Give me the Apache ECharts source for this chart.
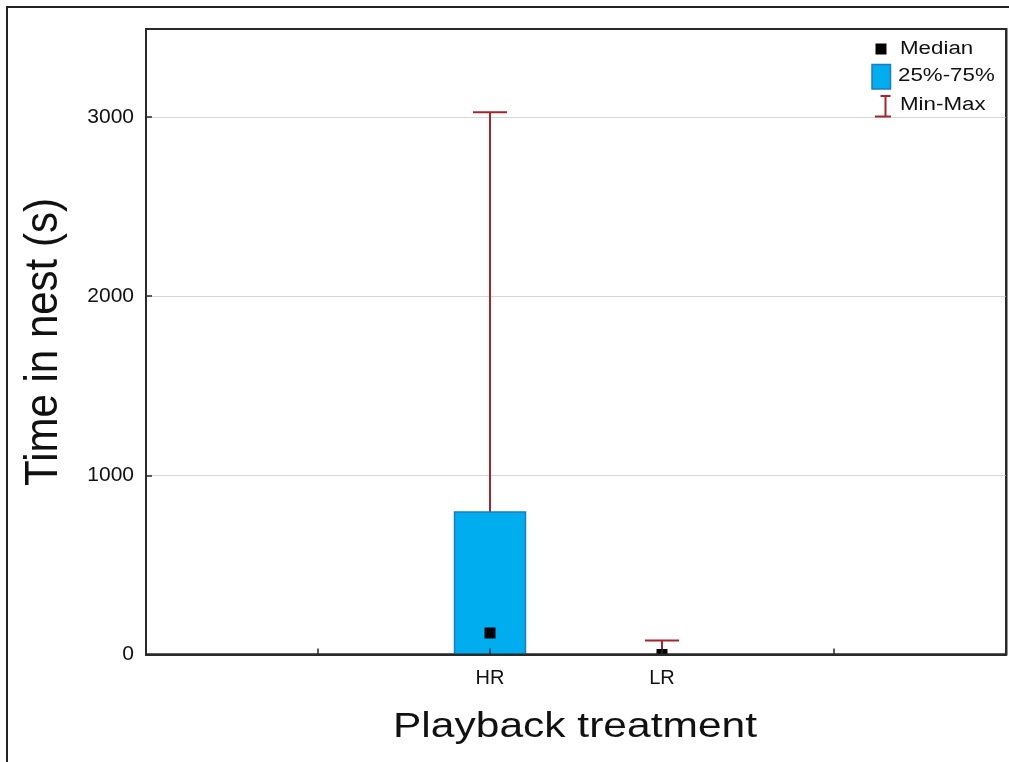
<!DOCTYPE html>
<html>
<head>
<meta charset="utf-8">
<script src="https://cdn.jsdelivr.net/npm/echarts@6/dist/echarts.min.js"></script>
<style>
  html, body { margin: 0; padding: 0; background: #fff; }
  #chart { width: 1009px; height: 762px; }
</style>
</head>
<body>
<div id="chart"></div>
<script>
// Playback treatment groups and their box-plot statistics (time in nest, s)
const categories = ['HR', 'LR'];
const minValues = [0, 0];
const q1Values = [0, 0];
const medianValues = [120, 0];
const q3Values = [795, 0];
const maxValues = [3025, 78];

const yMax = 3490;
const yStep = 1000;

const legendItems = ['Median', '25%-75%', 'Min-Max'];

const boxFill = '#00AEEF';
const boxStroke = '#1B7DBE';
const whiskerColor = '#A3262E';
const textColor = '#111';

const chart = echarts.init(document.getElementById('chart'));

const boxData = categories.map((c, i) => [
  i, minValues[i], q1Values[i], medianValues[i], q3Values[i], maxValues[i]
]);

function renderBox(params, api) {
  const i = api.value(0);
  const xc = api.coord([i, 0])[0];
  const yMin = api.coord([i, api.value(1)])[1];
  const yQ1 = api.coord([i, api.value(2)])[1];
  const yMed = api.coord([i, api.value(3)])[1];
  const yQ3 = api.coord([i, api.value(4)])[1];
  const yTop = api.coord([i, api.value(5)])[1];
  const boxW = api.size([0.4126, 0])[0];
  const capW = api.size([0.198, 0])[0];
  const whiskerStyle = { stroke: whiskerColor, lineWidth: 2 };
  const children = [];

  // upper whisker and cap
  children.push({ type: 'line', shape: { x1: xc, y1: yQ3, x2: xc, y2: yTop }, style: whiskerStyle });
  children.push({ type: 'line', shape: { x1: xc - capW / 2, y1: yTop, x2: xc + capW / 2, y2: yTop }, style: whiskerStyle });

  // lower whisker, only when it has length
  if (api.value(1) < api.value(2)) {
    children.push({ type: 'line', shape: { x1: xc, y1: yQ1, x2: xc, y2: yMin }, style: whiskerStyle });
    children.push({ type: 'line', shape: { x1: xc - capW / 2, y1: yMin, x2: xc + capW / 2, y2: yMin }, style: whiskerStyle });
  }

  // interquartile box
  if (api.value(4) > api.value(2)) {
    children.push({
      type: 'rect',
      shape: { x: xc - boxW / 2, y: yQ3, width: boxW, height: yQ1 - yQ3 },
      style: { fill: boxFill, stroke: boxStroke, lineWidth: 1.5 }
    });
  }

  // median marker
  children.push({
    type: 'rect',
    shape: { x: xc - 5.5, y: yMed - 5.5, width: 11, height: 11 },
    style: { fill: '#000' }
  });

  return { type: 'group', children: children };
}

const legendGraphics = [
  // median square
  { type: 'rect', shape: { x: 875.5, y: 43.5, width: 11, height: 11 }, style: { fill: '#000' }, z: 100 },
  // box swatch
  { type: 'rect', shape: { x: 872, y: 64.5, width: 18.5, height: 24.5 }, style: { fill: boxFill, stroke: boxStroke, lineWidth: 1.5 }, z: 100 },
  // whisker icon
  { type: 'line', shape: { x1: 885.5, y1: 96, x2: 885.5, y2: 116.5 }, style: { stroke: whiskerColor, lineWidth: 2 }, z: 100 },
  { type: 'line', shape: { x1: 880.5, y1: 96, x2: 890.5, y2: 96 }, style: { stroke: whiskerColor, lineWidth: 2 }, z: 100 },
  { type: 'line', shape: { x1: 875, y1: 116.5, x2: 891, y2: 116.5 }, style: { stroke: whiskerColor, lineWidth: 2 }, z: 100 }
];
const legendTextPos = [[900, 49.5], [898, 76.5], [900, 105]];
legendItems.forEach((t, k) => {
  legendGraphics.push({
    type: 'text',
    x: legendTextPos[k][0], y: legendTextPos[k][1],
    scaleX: 1.24,
    style: { text: t, fill: textColor, font: '18px "Liberation Sans", Arial, sans-serif', textAlign: 'left', textVerticalAlign: 'middle' },
    z: 100
  });
});

chart.setOption({
  animation: false,
  backgroundColor: '#fff',
  grid: {
    left: 146, right: 2.5, top: 29, bottom: 107.5,
    show: true, borderColor: '#2a2a2a', borderWidth: 2, backgroundColor: 'transparent'
  },
  xAxis: {
    type: 'value',
    z: 20,
    min: -2, max: 3, interval: 1,
    axisLine: { show: true, onZero: false, lineStyle: { color: '#2a2a2a', width: 2 } },
    axisTick: { show: true, inside: true, length: 6, lineStyle: { color: '#2a2a2a', width: 1.5 } },
    splitLine: { show: false },
    axisLabel: {
      margin: 14,
      color: textColor,
      fontFamily: '"Liberation Sans", Arial, sans-serif',
      fontSize: 20,
      formatter: v => (Number.isInteger(v) && categories[v]) || ''
    }
  },
  yAxis: {
    type: 'value',
    min: 0, max: yMax, interval: yStep,
    axisLine: { show: true, onZero: false, lineStyle: { color: '#2a2a2a', width: 2 } },
    axisTick: { show: true, inside: true, length: 6, lineStyle: { color: '#2a2a2a', width: 1.5 } },
    splitLine: { show: true, lineStyle: { color: '#d6d6d6', width: 1 } },
    axisLabel: {
      margin: 12,
      color: textColor,
      fontFamily: '"Liberation Sans", Arial, sans-serif',
      fontSize: 21,
      showMaxLabel: false,
      formatter: v => (v % yStep === 0 ? String(v) : '')
    }
  },
  graphic: [
    // outer frame
    { type: 'rect', shape: { x: 7, y: 7, width: 1100, height: 1000 }, style: { fill: 'none', stroke: '#222', lineWidth: 2 }, z: 100 },
    // plot frame on top of grid lines
    { type: 'rect', shape: { x: 146, y: 29, width: 860.5, height: 625.5 }, style: { fill: 'none', stroke: '#2a2a2a', lineWidth: 2 }, z: 50 },
    {
      type: 'text', x: 44, y: 342, rotation: Math.PI / 2, scaleY: 1.1,
      style: { text: 'Time in nest (s)', fill: textColor, font: '42px "Liberation Sans", Arial, sans-serif', textAlign: 'center', textVerticalAlign: 'middle' },
      z: 100
    },
    {
      type: 'text', x: 575, y: 727, scaleX: 1.215,
      style: { text: 'Playback treatment', fill: textColor, font: '35px "Liberation Sans", Arial, sans-serif', textAlign: 'center', textVerticalAlign: 'middle' },
      z: 100
    }
  ].concat(legendGraphics),
  series: [{
    type: 'custom',
    name: 'Time in nest',
    clip: true,
    renderItem: renderBox,
    encode: { x: 0, y: [1, 2, 3, 4, 5] },
    data: boxData,
    z: 10
  }]
});
</script>
</body>
</html>
